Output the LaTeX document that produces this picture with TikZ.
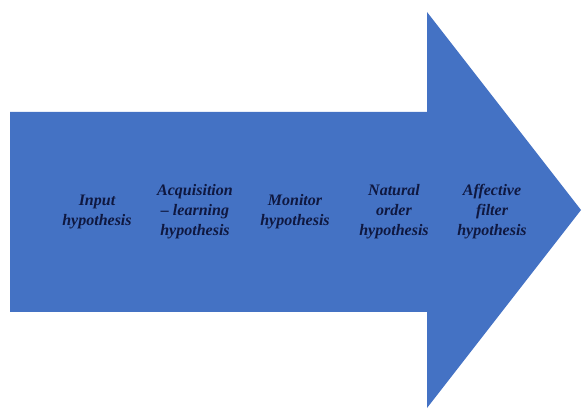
\documentclass[tikz,border=0pt]{standalone}
\usepackage{fontspec}
\setmainfont{Liberation Serif}
\definecolor{arrowblue}{HTML}{4472C4}
\definecolor{textnavy}{HTML}{0F1840}
\begin{document}
\begin{tikzpicture}[x=1pt,y=-1pt,line join=miter,
  hyp/.style={align=center,text=textnavy,font=\fontsize{16}{20}\selectfont\bfseries\itshape,inner sep=0pt}]

% page frame
\useasboundingbox (0,0) rectangle (582,409);

% big arrow
\fill[arrowblue] (10,112) -- (427,112) -- (427,12) -- (581,210)
  -- (427,408) -- (427,312) -- (10,312) -- cycle;

% hypotheses
\node[hyp] (input) at (97,212) {Input\\hypothesis};
\node[hyp] (acq) at (195,212) {Acquisition\\-- learning\\hypothesis};
\node[hyp] (monitor) at (295,212) {Monitor\\hypothesis};
\node[hyp] (natural) at (394,212) {Natural\\order\\hypothesis};
\node[hyp] (affective) at (492,212) {Affective\\filter\\hypothesis};

\end{tikzpicture}
\end{document}
